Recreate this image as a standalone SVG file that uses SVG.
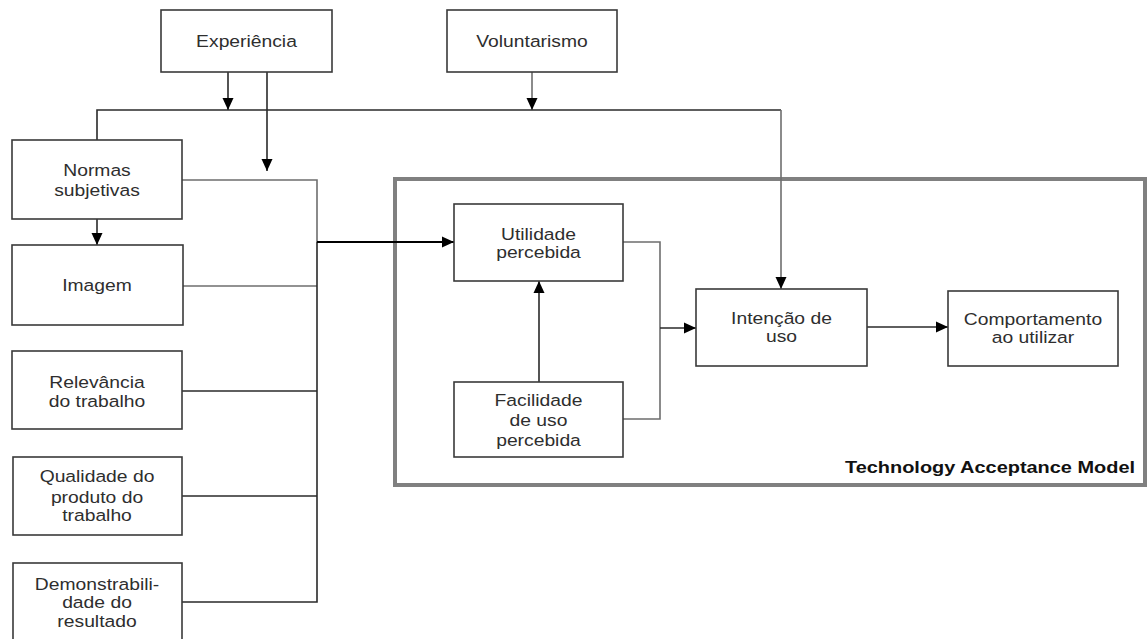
<svg xmlns="http://www.w3.org/2000/svg" width="1148" height="639" viewBox="0 0 1148 639">
  <style>
    .box { fill: #ffffff; stroke: #3a3a3a; stroke-width: 1.6; }
    .lbl { font-family: "Liberation Sans", Arial, sans-serif; font-size: 16.5px; fill: #2e2e2e; text-anchor: middle; }
    .ln { fill: none; stroke: #2a2a2a; stroke-width: 1.6; }
    .lg { fill: none; stroke: #6e6e6e; stroke-width: 1.6; }
    .thick { fill: none; stroke: #000000; stroke-width: 2.2; }
    .frame { fill: none; stroke: #808080; stroke-width: 4; }
    .tam { font-family: "Liberation Sans", Arial, sans-serif; font-size: 16px; font-weight: bold; fill: #111111; }
  </style>
  <defs>
    <marker id="arr" markerUnits="userSpaceOnUse" markerWidth="12" markerHeight="12" viewBox="0 0 12 12" refX="12" refY="6" orient="auto">
      <path d="M0,0.5 L12,6 L0,11.5 Z" fill="#000000"/>
    </marker>
  </defs>
  <rect width="1148" height="639" fill="#ffffff"/>

  <!-- Technology Acceptance Model frame -->
  <g id="tam-frame">
    <rect class="frame" x="395" y="179" width="750" height="306"/>
    <text class="tam" x="845" y="473" textLength="290" lengthAdjust="spacingAndGlyphs">Technology Acceptance Model</text>
  </g>

  <!-- connectors -->
  <g id="connectors">
    <path class="ln" d="M228,72 V110" marker-end="url(#arr)"/>
    <path class="ln" d="M267,72 V171" marker-end="url(#arr)"/>
    <path class="lg" d="M532,72 V110" marker-end="url(#arr)"/>
    <path class="ln" d="M97,140 V110 H781"/>
    <path class="lg" d="M781,110 V289" marker-end="url(#arr)"/>
    <path class="ln" d="M97,219 V245" marker-end="url(#arr)"/>
    <path class="lg" d="M182,180 H317 V242"/>
    <path class="lg" d="M183,286 H317"/>
    <path class="ln" d="M182,391 H317"/>
    <path class="ln" d="M182,496 H317"/>
    <path class="ln" d="M182,602 H317 V242"/>
    <path class="thick" d="M317,242 H454" marker-end="url(#arr)"/>
    <path class="ln" d="M539,382 V281" marker-end="url(#arr)"/>
    <path class="lg" d="M623,242 H660 V419 H623"/>
    <path class="ln" d="M660,328 H696" marker-end="url(#arr)"/>
    <path class="ln" d="M867,327 H948" marker-end="url(#arr)"/>
  </g>

  <g id="experiencia">
    <rect class="box" x="161" y="10" width="171" height="62"/>
    <text class="lbl" transform="translate(246.5 0) scale(1.17 1)" x="0" y="47.5">Experiência</text>
  </g>
  <g id="voluntarismo">
    <rect class="box" x="447" y="10" width="170" height="62"/>
    <text class="lbl" transform="translate(532 0) scale(1.17 1)" x="0" y="47">Voluntarismo</text>
  </g>
  <g id="normas">
    <rect class="box" x="12" y="140" width="170" height="79"/>
    <text class="lbl" transform="translate(97 0) scale(1.17 1)"><tspan x="0" y="176">Normas</tspan><tspan x="0" y="196">subjetivas</tspan></text>
  </g>
  <g id="imagem">
    <rect class="box" x="12" y="245" width="171" height="80"/>
    <text class="lbl" transform="translate(97 0) scale(1.17 1)" x="0" y="291.5">Imagem</text>
  </g>
  <g id="relevancia">
    <rect class="box" x="12" y="351" width="170" height="78"/>
    <text class="lbl" transform="translate(97 0) scale(1.17 1)"><tspan x="0" y="388">Relevância</tspan><tspan x="0" y="407">do trabalho</tspan></text>
  </g>
  <g id="qualidade">
    <rect class="box" x="13" y="457" width="169" height="78"/>
    <text class="lbl" transform="translate(97 0) scale(1.17 1)"><tspan x="0" y="482.5">Qualidade do</tspan><tspan x="0" y="503">produto do</tspan><tspan x="0" y="521.5">trabalho</tspan></text>
  </g>
  <g id="demonstrabilidade">
    <rect class="box" x="13" y="563" width="169" height="90"/>
    <text class="lbl" transform="translate(97 0) scale(1.17 1)"><tspan x="0" y="590">Demonstrabili-</tspan><tspan x="0" y="608.5">dade do</tspan><tspan x="0" y="627.5">resultado</tspan></text>
  </g>
  <g id="utilidade">
    <rect class="box" x="454" y="204" width="169" height="77"/>
    <text class="lbl" transform="translate(538.5 0) scale(1.17 1)"><tspan x="0" y="240">Utilidade</tspan><tspan x="0" y="258.5">percebida</tspan></text>
  </g>
  <g id="facilidade">
    <rect class="box" x="454" y="382" width="169" height="75"/>
    <text class="lbl" transform="translate(538.5 0) scale(1.17 1)"><tspan x="0" y="406">Facilidade</tspan><tspan x="0" y="426">de uso</tspan><tspan x="0" y="446">percebida</tspan></text>
  </g>
  <g id="intencao">
    <rect class="box" x="696" y="289" width="171" height="77"/>
    <text class="lbl" transform="translate(781.5 0) scale(1.17 1)"><tspan x="0" y="324">Intenção de</tspan><tspan x="0" y="342.5">uso</tspan></text>
  </g>
  <g id="comportamento">
    <rect class="box" x="948" y="291" width="170" height="75"/>
    <text class="lbl" transform="translate(1033 0) scale(1.17 1)"><tspan x="0" y="325">Comportamento</tspan><tspan x="0" y="343">ao utilizar</tspan></text>
  </g>
</svg>
